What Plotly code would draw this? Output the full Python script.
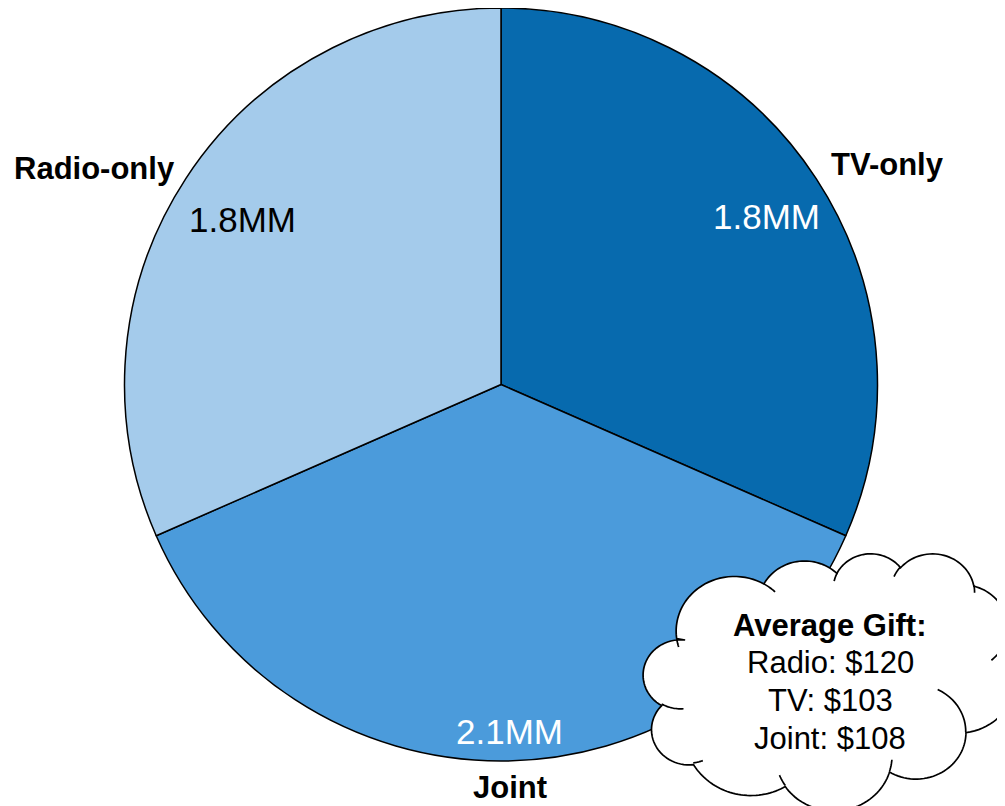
import math
import plotly.graph_objects as go

# slices, clockwise from 12 o'clock
categories = ["TV-only", "Joint", "Radio-only"]
values = [1.8, 2.1, 1.8]
value_labels = ["1.8MM", "2.1MM", "1.8MM"]
slice_colors = ["#076AAE", "#4B9BDB", "#A4CBEB"]
value_text_colors = ["white", "white", "black"]

gift_segments = ["Radio", "TV", "Joint"]
gift_values = [120, 103, 108]

FONT = "Liberation Sans, Arial, sans-serif"

# the page body has an 8px margin; work in screen pixels and shift
PAGE_W, PAGE_H, OFF = 1005, 806, 8
W, H = PAGE_W - OFF, PAGE_H - OFF

# pie geometry in screen pixels
cx, cy, R = 501, 384, 377

# text centres in screen pixels (same order as categories)
value_pos = [(766, 216), (509, 731), (242, 219)]
name_pos = [(887, 165), (510, 787), (94, 168)]
gift_x, gift_rows_y = 830, [625, 662, 700, 738]


def to_paper(x, y):
    return (x - OFF) / W, 1 - (y - OFF) / H


def clip(v):
    return min(1.0, max(0.0, v))


x0, y0 = to_paper(cx - R, cy + R)
x1, y1 = to_paper(cx + R, cy - R)
fig = go.Figure(go.Pie(
    labels=categories, values=values, sort=False, direction="clockwise",
    rotation=0, textinfo="none", hoverinfo="label+value", showlegend=False,
    marker=dict(colors=slice_colors, line=dict(color="black", width=1.5)),
    domain=dict(x=[clip(x0), clip(x1)], y=[clip(y0), clip(y1)]),
))

annotations = []


def add_text(x, y, text, size, color="black"):
    ax, ay = to_paper(x, y)
    annotations.append(dict(
        x=ax, y=ay, xref="paper", yref="paper", showarrow=False, text=text,
        font=dict(family=FONT, size=size, color=color),
        xanchor="center", yanchor="middle"))


for i in range(len(categories)):
    add_text(*value_pos[i], value_labels[i], 35, value_text_colors[i])
    add_text(*name_pos[i], f"<b>{categories[i]}</b>", 31)

# PowerPoint-style cloud (43200 x 43200 path space, arcs in 60000ths of a degree)
cloud_x0, cloud_y0, cloud_w, cloud_h = 643, 553, 373, 257
outline = [
    (6753, 9190, -11429249, 7426832), (5333, 7267, -8646143, 5396714),
    (4365, 5945, -8748475, 5983381), (4857, 6595, -7859164, 7034504),
    (5333, 7273, -4722533, 6541615), (6775, 9220, -2776035, 7816140),
    (5785, 7867, 37501, 6842000), (6752, 9215, 1347096, 6910353),
    (7720, 10543, 3974558, 4496080), (4360, 5918, -16496525, 8804134),
    (4345, 5945, -14809710, 9714484),
]
inner = [
    ((4693, 26177), (4345, 5945, 5204520, 1585770)),
    ((6928, 34899), (4360, 5918, 4416628, 686848)),
    ((16478, 39090), (6752, 9215, 8257449, 844866)),
    ((28827, 34751), (6752, 9215, 387196, 959901)),
    ((34129, 22954), (5785, 7867, -4217541, 4255042)),
    ((41798, 15354), (5333, 7273, 1819082, 1665090)),
    ((38324, 5426), (4857, 6595, -824660, 891534)),
    ((29078, 3952), (4857, 6595, -8950887, 1091722)),
    ((22141, 4720), (4365, 5945, -9809656, 1061181)),
    ((14000, 5192), (6753, 9190, -4002417, 739161)),
    ((4127, 15789), (6753, 9190, 9459261, 711490)),
]


def ell_pt(wr, hr, a):
    t = math.atan2(wr * math.sin(a), hr * math.cos(a))
    return wr * math.cos(t), hr * math.sin(t)


def arc(cur, wr, hr, st, sw, n=40):
    # computed in path space, scaled afterwards
    st, sw = math.radians(st / 60000), math.radians(sw / 60000)
    ox, oy = ell_pt(wr, hr, st)
    ccx, ccy = cur[0] - ox, cur[1] - oy
    pts = []
    for k in range(1, n + 1):
        ex, ey = ell_pt(wr, hr, st + sw * k / n)
        pts.append((ccx + ex, ccy + ey))
    return pts


def fmt(p):
    a, b = to_paper(cloud_x0 + p[0] * cloud_w / 43200, cloud_y0 + p[1] * cloud_h / 43200)
    return f"{a:.5f},{b:.5f}"


pts = [(3900, 14370)]
for seg in outline:
    pts.extend(arc(pts[-1], *seg))
outline_path = "M " + " L ".join(fmt(p) for p in pts) + " Z"

inner_path = ""
for p0, seg in inner:
    seg_pts = [p0] + arc(p0, *seg, n=15)
    inner_path += "M " + " L ".join(fmt(p) for p in seg_pts) + " "

shapes = [
    dict(type="path", path=outline_path, xref="paper", yref="paper",
         fillcolor="white", line=dict(color="black", width=1.7), layer="above"),
    dict(type="path", path=inner_path.strip(), xref="paper", yref="paper",
         fillcolor="rgba(0,0,0,0)", line=dict(color="black", width=1.7), layer="above"),
]

gift_rows = ["<b>Average Gift:</b>"] + [f"{s}: ${v}" for s, v in zip(gift_segments, gift_values)]
for row, ry in zip(gift_rows, gift_rows_y):
    add_text(gift_x, ry, row, 31)

fig.update_layout(
    width=W, height=H, autosize=False,
    margin=dict(l=0, r=0, t=0, b=0),
    paper_bgcolor="white", plot_bgcolor="white",
    shapes=shapes, annotations=annotations,
    font=dict(family=FONT),
)
# the plot overflows the body margin; hide the scrollbars so the edges show
fig.write_html(
    "out.html",
    post_script="document.documentElement.style.overflow='hidden';"
                "document.body.style.overflow='hidden';",
)
